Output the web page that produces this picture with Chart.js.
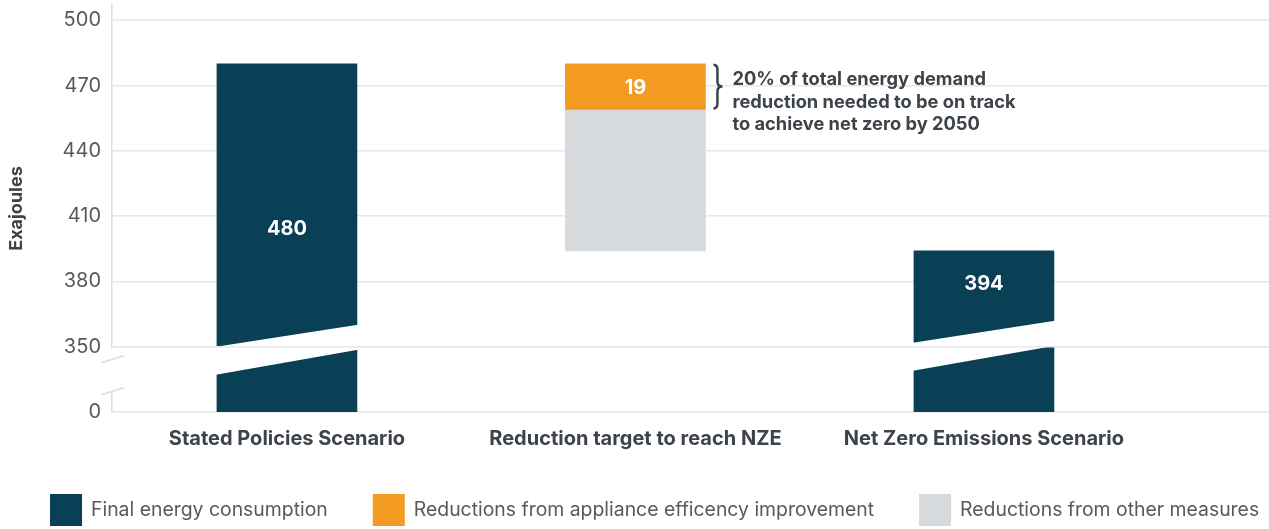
<!DOCTYPE html>
<html>
<head>
<meta charset="utf-8">
<script src="https://cdn.jsdelivr.net/npm/chart.js@4.4.1/dist/chart.umd.min.js"></script>
<style>
    html, body { margin: 0; padding: 0; background: #ffffff; }
    #wrap { width: 1269px; height: 529px; position: relative; }
</style>
</head>
<body>
<div id="wrap"><canvas id="energyChart"></canvas></div>
<script>
// values (exajoules)
const categories = ['Stated Policies Scenario', 'Reduction target to reach NZE', 'Net Zero Emissions Scenario'];
const finalConsumption = [480, null, 394];
const applianceReduction = [null, [459, 480], null]; // floating segment, from..to
const otherReduction = [null, [394, 459], null];
const valueLabels = ['480', '19', '394'];
const yTickValues = [0, 350, 380, 410, 440, 470, 500];
const seriesNames = ['Final energy consumption', 'Reductions from appliance efficency improvement', 'Reductions from other measures'];
const noteLines = ['20% of total energy demand', 'reduction needed to be on track', 'to achieve net zero by 2050'];

const colours = ['#0a4056', '#f39a22', '#d7dadd'];
const gridColour = '#e6e6ec';
const textDark = '#3d434a';
const textGrey = '#555a5f';

// the axis is broken between 0 and 350: 0 sits one step (30) below 350
const BREAK_VALUE = 350;
const BREAK_BASE = 320;
function toAxis(v) {
    return v >= BREAK_VALUE ? v : BREAK_BASE + v * (BREAK_VALUE - BREAK_BASE) / BREAK_VALUE;
}

// where the white labels sit on the bars (axis units) and a small nudge for each break band
const labelAt = [404, 469, 379];
const breakShift = [0, 0, -4];

function toPoints(values) {
    const points = [];
    values.forEach((v, i) => {
        if (v === null) return;
        const range = Array.isArray(v) ? v : [0, v];
        points.push({ x: i, y: [toAxis(range[0]), toAxis(range[1])] });
    });
    return points;
}

const breakPlugin = {
    id: 'breaks',
    afterDatasetsDraw(chart) {
        const ctx = chart.ctx;
        const y = chart.scales.y;
        const area = chart.chartArea;
        const y350 = y.getPixelForValue(BREAK_VALUE);

        // white slanted band through bars that start at zero
        chart.getDatasetMeta(0).data.forEach((bar, n) => {
            const idx = chart.data.datasets[0].data[n].x;
            const x0 = bar.x - bar.width / 2 - 1;
            const x1 = bar.x + bar.width / 2 + 1;
            const s = breakShift[idx];
            ctx.save();
            ctx.fillStyle = '#ffffff';
            ctx.beginPath();
            ctx.moveTo(x0, y350 + s);
            ctx.lineTo(x1, y350 - 22 + s);
            ctx.lineTo(x1, y350 + 3 + s);
            ctx.lineTo(x0, y350 + 28 + s);
            ctx.closePath();
            ctx.fill();
            ctx.restore();
        });

        // gridline at 350 shows through the gaps
        ctx.save();
        ctx.strokeStyle = gridColour;
        ctx.lineWidth = 1.5;
        ctx.beginPath();
        ctx.moveTo(area.left, y350);
        ctx.lineTo(area.right, y350);
        ctx.stroke();

        // gap in the y axis line plus two slanted marks
        const ax = area.left;
        ctx.fillStyle = '#ffffff';
        ctx.fillRect(ax - 3, y350 + 1, 6, 44);
        ctx.strokeStyle = '#dcdce4';
        ctx.lineWidth = 1.5;
        ctx.beginPath();
        ctx.moveTo(ax - 11, y350 + 16);
        ctx.lineTo(ax + 12, y350 + 9);
        ctx.moveTo(ax - 11, y350 + 48);
        ctx.lineTo(ax + 12, y350 + 41);
        ctx.stroke();
        ctx.restore();

        // value labels inside bars
        ctx.save();
        ctx.fillStyle = '#ffffff';
        ctx.font = 'bold 20px Inter';
        ctx.textAlign = 'center';
        ctx.textBaseline = 'middle';
        const xScale = chart.scales.x;
        valueLabels.forEach((txt, i) => {
            ctx.fillText(txt, xScale.getPixelForValue(i), y.getPixelForValue(labelAt[i]));
        });
        ctx.restore();

        // brace and note beside the appliance segment
        const seg = chart.getDatasetMeta(1).data[0];
        const top = seg.y;
        const bottom = seg.base;
        const bx = seg.x + seg.width / 2 + 8;
        const mid = (top + bottom) / 2;
        ctx.save();
        ctx.strokeStyle = textDark;
        ctx.lineWidth = 2.5;
        ctx.beginPath();
        ctx.moveTo(bx, top + 1);
        ctx.quadraticCurveTo(bx + 4, top + 1, bx + 4, top + 6);
        ctx.lineTo(bx + 4, mid - 5);
        ctx.quadraticCurveTo(bx + 4, mid, bx + 9, mid);
        ctx.quadraticCurveTo(bx + 4, mid, bx + 4, mid + 5);
        ctx.lineTo(bx + 4, bottom - 6);
        ctx.quadraticCurveTo(bx + 4, bottom - 1, bx, bottom - 1);
        ctx.stroke();
        ctx.fillStyle = textDark;
        ctx.font = 'bold 18.3px Inter';
        ctx.textAlign = 'left';
        ctx.textBaseline = 'middle';
        noteLines.forEach((line, i) => {
            ctx.fillText(line, bx + 19, top + 16 + i * 22.5);
        });
        ctx.restore();
    },
    afterDraw(chart) {
        // legend along the bottom
        const ctx = chart.ctx;
        ctx.save();
        ctx.font = '19.4px Inter';
        ctx.textBaseline = 'middle';
        let x = 50;
        const top = 494;
        seriesNames.forEach((name, i) => {
            ctx.fillStyle = colours[i];
            ctx.fillRect(x, top, 32, 32);
            ctx.fillStyle = textGrey;
            ctx.fillText(name, x + 41, top + 16);
            x += 41 + ctx.measureText(name).width + 45;
        });
        ctx.restore();
    }
};

const ctx = document.getElementById('energyChart').getContext('2d');
const chart = new Chart(ctx, {
    type: 'bar',
    data: {
        datasets: [
            { label: seriesNames[0], data: toPoints(finalConsumption), backgroundColor: colours[0] },
            { label: seriesNames[1], data: toPoints(applianceReduction), backgroundColor: colours[1] },
            { label: seriesNames[2], data: toPoints(otherReduction), backgroundColor: colours[2] }
        ]
    },
    options: {
        responsive: true,
        maintainAspectRatio: false,
        animation: false,
        grouped: false,
        barThickness: 140,
        layout: { padding: { top: 5, right: 0, left: 0, bottom: 0 } },
        plugins: {
            legend: { display: false },
            tooltip: { enabled: false }
        },
        scales: {
            x: {
                type: 'linear',
                min: -0.502,
                max: 2.818,
                offset: false,
                grid: { display: false },
                border: { display: false },
                afterBuildTicks: scale => { scale.ticks = categories.map((c, i) => ({ value: i })); },
                afterFit: scale => {
                    scale.height = 117;
                    scale.paddingLeft = 0;
                    scale.paddingRight = 0;
                },
                ticks: {
                    autoSkip: false,
                    maxRotation: 0,
                    padding: 7,
                    color: textDark,
                    font: { family: 'Inter', size: 20, weight: 'bold' },
                    callback: v => categories[v]
                }
            },
            y: {
                min: BREAK_BASE,
                max: 507,
                grid: { color: gridColour, lineWidth: 1.5, drawTicks: false },
                border: { color: '#dcdce4', width: 1.5 },
                afterBuildTicks: scale => { scale.ticks = yTickValues.map(v => ({ value: toAxis(v) })); },
                afterFit: scale => {
                    scale.width = 112;
                    scale.paddingTop = 0;
                    scale.paddingBottom = 0;
                },
                ticks: {
                    padding: 11,
                    color: textGrey,
                    font: { family: 'Inter', size: 20 },
                    callback: (v, i) => String(yTickValues[i])
                },
                title: {
                    display: true,
                    text: 'Exajoules',
                    color: textDark,
                    padding: { top: 6, bottom: 4 },
                    font: { family: 'Inter', size: 18, weight: 'bold' }
                }
            }
        }
    },
    plugins: [breakPlugin]
});
</script>
</body>
</html>
